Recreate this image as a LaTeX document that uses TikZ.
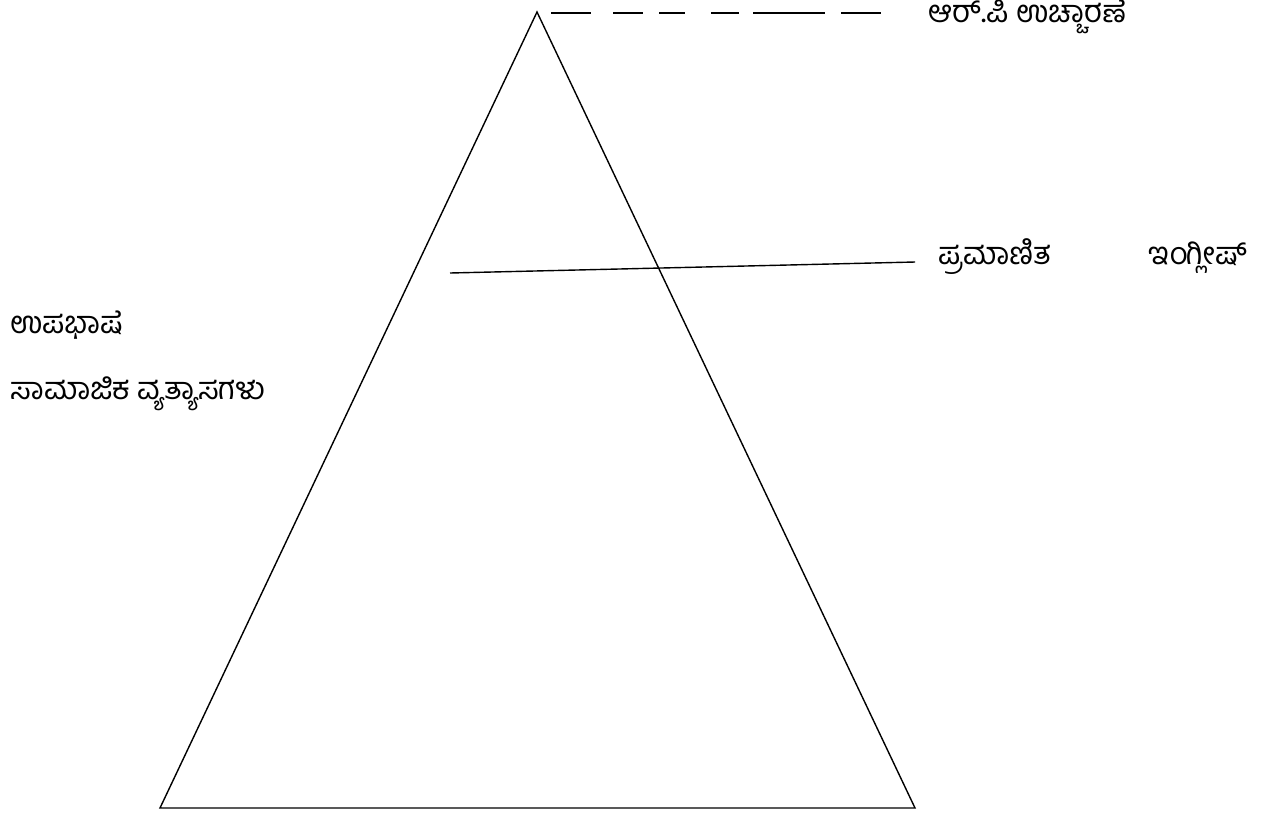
\documentclass[tikz,border=0pt]{standalone}
\usepackage{fontspec}
\newfontfamily\kanfont[Script=Kannada]{Hind Mysuru}
\usetikzlibrary{positioning}

\begin{document}
\begin{tikzpicture}[
		x=0.5pt, y=-0.5pt,
		edge/.style={line width=0.7pt},
		rpline/.style={line width=0.9pt, dash pattern=on 20pt off 11pt on 15pt off 8pt on 13pt off 13pt on 14pt off 7pt on 36pt off 8pt on 20pt},
		label/.style={anchor=base west, inner sep=0pt, font=\kanfont\fontsize{15.5}{17}\selectfont}
		]
		\useasboundingbox (0,0) rectangle (1273,815);

		% Pyramid corners
		\coordinate (apex) at (537,12);
		\coordinate (baseL) at (160,808);
		\coordinate (baseR) at (915,808);
		\draw[edge] (apex) -- (baseL) -- (baseR) -- cycle;

		% RP line
		\coordinate (rpstart) at (551,13);
		\coordinate (rpend) at (881,13);
		\draw[rpline] (rpstart) -- (rpend);
		\node[label] (rp) at (928,22) {ಆರ್.ಪಿ ಉಚ್ಚಾರಣೆ};

		% Standard English line
		\coordinate (stdstart) at (450,273);
		\coordinate (stdend) at (915,262);
		\draw[edge] (stdstart) -- (stdend);
		\node[label] (std) at (938,264) {ಪ್ರಮಾಣಿತ};
		\node[label] (eng) at (1148,264) {ಇಂಗ್ಲೀಷ್};

		% Left labels
		\node[label] (dialect) at (10,333) {ಉಪಭಾಷೆ};
		\node[label] (social) at (10,399) {ಸಾಮಾಜಿಕ ವ್ಯತ್ಯಾಸಗಳು};

	\end{tikzpicture}
\end{document}
